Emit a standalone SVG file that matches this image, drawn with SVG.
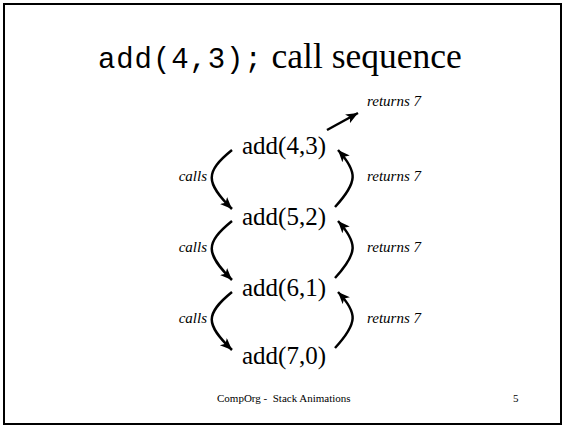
<svg xmlns="http://www.w3.org/2000/svg" width="564" height="427" viewBox="0 0 564 427">
<style>
.node{font-family:"Liberation Serif",serif;font-size:25px;fill:#000}
.lbl{font-family:"Liberation Serif",serif;font-size:15px;font-style:italic;fill:#000}
.conn{fill:none;stroke:#000;stroke-width:2.5}
.foot{font-family:"Liberation Serif",serif;font-size:11px;fill:#000}
</style>
<defs>
<marker id="ah" markerUnits="userSpaceOnUse" markerWidth="14" markerHeight="12" refX="12" refY="5" orient="auto">
<path d="M0,0 L12,5 L0,10 L3,5 z" fill="#000"/>
</marker>
</defs>
<rect x="4" y="4" width="557" height="420" fill="#fff" stroke="#000" stroke-width="2"/>
<g id="title">
<text x="98" y="68"><tspan font-family="Liberation Mono,monospace" font-size="29" letter-spacing="0.9">add(4,3);</tspan><tspan font-family="Liberation Serif,serif" font-size="35.5"> call sequence</tspan></text>
</g>
<g id="n1"><text class="node" x="242" y="154">add(4,3)</text></g>
<g id="n2"><text class="node" x="242" y="225">add(5,2)</text></g>
<g id="n3"><text class="node" x="242" y="296">add(6,1)</text></g>
<g id="n4"><text class="node" x="242" y="364">add(7,0)</text></g>
<g id="connectors">
<path class="conn" d="M327,130 L358,113" marker-end="url(#ah)"/>
<path class="conn" d="M232,150 C205,172 205,182 232,209" marker-end="url(#ah)"/>
<path class="conn" d="M335,207 C358,182 358,172 338,150" marker-end="url(#ah)"/>
<path class="conn" d="M232,221 C205,243 205,253 232,280" marker-end="url(#ah)"/>
<path class="conn" d="M335,278 C358,253 358,243 338,221" marker-end="url(#ah)"/>
<path class="conn" d="M232,292 C205,314 205,324 232,350" marker-end="url(#ah)"/>
<path class="conn" d="M335,348 C358,323 358,313 338,292" marker-end="url(#ah)"/>
</g>
<g id="labels">
<text class="lbl" x="367" y="106">returns 7</text>
<text class="lbl" x="207" y="181" text-anchor="end">calls</text>
<text class="lbl" x="367" y="181">returns 7</text>
<text class="lbl" x="207" y="252" text-anchor="end">calls</text>
<text class="lbl" x="367" y="252">returns 7</text>
<text class="lbl" x="207" y="323" text-anchor="end">calls</text>
<text class="lbl" x="367" y="323">returns 7</text>
</g>
<g id="footer">
<text class="foot" x="217" y="402" xml:space="preserve">CompOrg -  Stack Animations</text>
<text class="foot" x="513" y="402">5</text>
</g>
</svg>
